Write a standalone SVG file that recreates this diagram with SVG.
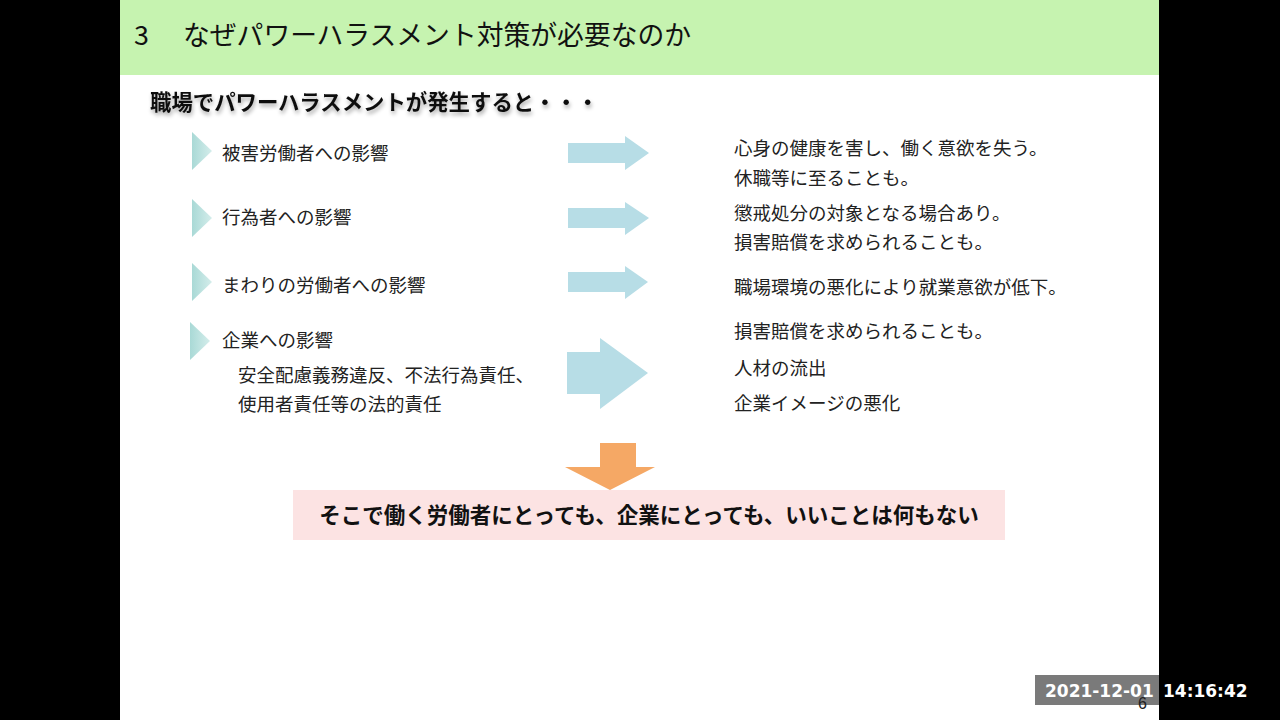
<svg xmlns="http://www.w3.org/2000/svg" width="1280" height="720" viewBox="0 0 1280 720">
<defs>
<style>
text{font-family:"Noto Sans CJK JP","Noto Sans CJK SC",sans-serif;fill:#222}
.item{font-size:18.5px}
.title{font-size:26.8px;fill:#111}
.sub{font-size:21.4px;font-weight:bold;fill:#111}
.concl{font-size:21.5px;font-weight:bold;fill:#111}
.tri{fill:url(#tg)}
.barrow{fill:#B7DDE6}
.ts{font-family:"DejaVu Sans",sans-serif;font-size:17px;font-weight:bold;fill:#fff}
</style>
<linearGradient id="tg" x1="0" y1="0" x2="1" y2="0">
<stop offset="0" stop-color="#A9D9D6"/>
<stop offset="1" stop-color="#D4EDEB"/>
</linearGradient>
<filter id="sh" x="-5%" y="-30%" width="110%" height="160%">
<feGaussianBlur in="SourceAlpha" stdDeviation="2"/>
<feOffset dx="1" dy="3"/>
<feComponentTransfer><feFuncA type="linear" slope="0.35"/></feComponentTransfer>
<feMerge><feMergeNode/><feMergeNode in="SourceGraphic"/></feMerge>
</filter>
</defs>
<rect x="0" y="0" width="1280" height="720" fill="#000"/>
<rect x="120" y="0" width="1039" height="720" fill="#fff"/>
<g id="header">
<rect x="120" y="0" width="1039" height="75" fill="#C6F3B0"/>
<text class="title" x="134" y="45">3</text>
<text class="title" x="183" y="45">なぜパワーハラスメント対策が必要なのか</text>
</g>
<g id="subtitle">
<text class="sub" x="150" y="110" filter="url(#sh)">職場でパワーハラスメントが発生すると・・・</text>
</g>
<g id="n1">
<polygon class="tri" points="192,132 212,151 192,170"/>
<text class="item" x="222" y="160">被害労働者への影響</text>
</g>
<g id="n2">
<polygon class="tri" points="192,199 212,218 192,237"/>
<text class="item" x="222" y="224">行為者への影響</text>
</g>
<g id="n3">
<polygon class="tri" points="192,263 212,282 192,301"/>
<text class="item" x="222" y="292">まわりの労働者への影響</text>
</g>
<g id="n4">
<polygon class="tri" points="190,322 210,341 190,360"/>
<text class="item" x="222" y="347">企業への影響</text>
<text class="item" x="238" y="382">安全配慮義務違反、不法行為責任、</text>
<text class="item" x="238" y="411">使用者責任等の法的責任</text>
</g>
<g id="r1">
<text class="item" x="734" y="155">心身の健康を害し、働く意欲を失う。</text>
<text class="item" x="734" y="185">休職等に至ることも。</text>
</g>
<g id="r2">
<text class="item" x="734" y="220">懲戒処分の対象となる場合あり。</text>
<text class="item" x="734" y="249">損害賠償を求められることも。</text>
</g>
<g id="r3">
<text class="item" x="734" y="294">職場環境の悪化により就業意欲が低下。</text>
</g>
<g id="r4">
<text class="item" x="734" y="338">損害賠償を求められることも。</text>
<text class="item" x="734" y="375">人材の流出</text>
<text class="item" x="734" y="410">企業イメージの悪化</text>
</g>
<g id="connectors">
<polygon class="barrow" points="568,143 625,143 625,136 649,153 625,170 625,163 568,163"/>
<polygon class="barrow" points="568,208 625,208 625,202 649,218 625,235 625,228 568,228"/>
<polygon class="barrow" points="568,272 625,272 625,266 648,282 625,299 625,292 568,292"/>
<polygon class="barrow" points="567,352 600,352 600,338 648,373 600,409 600,394 567,394"/>
<polygon fill="#F5A865" points="600,443 636,443 636,467 655,467 610,490 565,467 600,467"/>
</g>
<g id="conclusion">
<rect x="293" y="490" width="712" height="50" fill="#FCE3E3"/>
<text class="concl" x="649" y="523" text-anchor="middle">そこで働く労働者にとっても、企業にとっても、いいことは何もない</text>
</g>
<g id="footer">
<rect x="1035" y="675" width="124" height="30" fill="#7A7A7A"/>
<text class="ts" x="1045" y="697">2021-12-01</text>
<text class="ts" x="1163" y="697">14:16:42</text>
<text x="1138" y="709" style="font-family:'Liberation Sans',sans-serif;font-size:16px;fill:#222">6</text>
</g>
</svg>
